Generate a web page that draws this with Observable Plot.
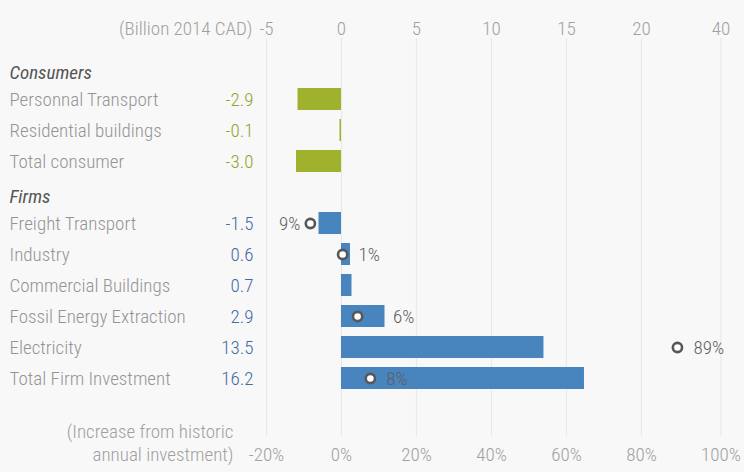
<!DOCTYPE html>
<html>
<head>
<meta charset="utf-8">
<script src="https://cdn.jsdelivr.net/npm/d3@7"></script>
<script src="https://cdn.jsdelivr.net/npm/@observablehq/plot@0.6"></script>
<style>
  html, body { margin: 0; padding: 0; background: #f8f8f8; }
  #chart svg { display: block; }
</style>
</head>
<body>
<div id="chart"></div>
<script>
// ---- data ----
const categories = ["Personnal Transport", "Residential buildings", "Total consumer",
  "Freight Transport", "Industry", "Commercial Buildings", "Fossil Energy Extraction",
  "Electricity", "Total Firm Investment"];
const groups = ["Consumers", "Consumers", "Consumers", "Firms", "Firms", "Firms", "Firms", "Firms", "Firms"];
const investment = [-2.9, -0.1, -3.0, -1.5, 0.6, 0.7, 2.9, 13.5, 16.2];
const investmentLabels = ["-2.9", "-0.1", "-3.0", "-1.5", "0.6", "0.7", "2.9", "13.5", "16.2"];

const pctCategories = ["Freight Transport", "Industry", "Fossil Energy Extraction", "Electricity", "Total Firm Investment"];
const pctIncrease = [-8.3, 0.3, 4.3, 89.6, 7.7];
const pctLabels = ["9%", "1%", "6%", "89%", "8%"];

const topTickValues = [-5, 0, 5, 10, 15, 20, 25.3];
const topTickLabels = ["-5", "0", "5", "10", "15", "20", "40"];
const bottomTickValues = [-20, 0, 20, 40, 60, 80, 101.2];
const bottomTickLabels = ["-20%", "0%", "20%", "40%", "60%", "80%", "100%"];

// ---- derived tables ----
const rows = categories.map((c, i) => ({category: c, group: groups[i], value: investment[i], label: investmentLabels[i]}));
const yDomain = [...categories.slice(0, 3), "", ...categories.slice(3)];
const pctToX = p => p / 4; // 20% on the lower axis lines up with 5 on the upper axis
const pctRows = pctCategories.map((c, i) => {
  const bar = investment[categories.indexOf(c)];
  const cx = pctToX(pctIncrease[i]);
  return {category: c, pct: pctIncrease[i], cx, label: pctLabels[i], bar,
    afterBar: cx >= 0 && bar > cx && bar - cx < 2.5};
});
const headers = ["Consumers", "Firms"].map(g => ({group: g, category: rows.find(r => r.group === g).category}));
const groupColor = {Consumers: "#a0b12d", Firms: "#4884be"};
const valueColor = {Consumers: "#90a428", Firms: "#3f6aa6"};

const FONT = "'Roboto Condensed', Roboto, sans-serif";

const plot = Plot.plot({
  width: 744,
  height: 472,
  marginTop: 38,
  marginBottom: 36,
  marginLeft: 0,
  marginRight: 24,
  style: {background: "#f8f8f8", fontFamily: FONT, fontSize: "19px", fontWeight: 300},
  x: {domain: [-5, 25.27], range: [266, 720], axis: null},
  y: {domain: yDomain, range: [81.5, 395.5], paddingInner: 0.28, paddingOuter: 0.14, axis: null},
  marks: [
    Plot.ruleX(topTickValues, {stroke: "#e9e9e9", strokeWidth: 1.2}),
    Plot.barX(rows, {x: "value", y: "category", fill: d => groupColor[d.group]}),
    // top axis labels
    Plot.text(topTickValues, {x: d => d, text: (d, i) => topTickLabels[i], frameAnchor: "top", dy: -17, fill: "#a0a0a0"}),
    Plot.text(["(Billion 2014 CAD)"], {frameAnchor: "top-left", dx: 252, dy: -17, textAnchor: "end", fill: "#a0a0a0"}),
    // bottom axis labels
    Plot.text(bottomTickValues, {x: d => pctToX(d), text: (d, i) => bottomTickLabels[i], frameAnchor: "bottom", dy: 24, fill: "#a0a0a0"}),
    Plot.text(["(Increase from historic"], {frameAnchor: "bottom-left", dx: 233, dy: 1, textAnchor: "end", fill: "#a0a0a0"}),
    Plot.text(["annual investment)"], {frameAnchor: "bottom-left", dx: 233, dy: 24, textAnchor: "end", fill: "#a0a0a0"}),
    // row labels
    Plot.text(rows, {y: "category", text: "category", frameAnchor: "left", dx: 9, textAnchor: "start", fill: "#949494"}),
    Plot.text(rows, {y: "category", text: "label", frameAnchor: "left", dx: 253, textAnchor: "end", fill: d => valueColor[d.group]}),
    Plot.text(headers, {y: "category", text: "group", frameAnchor: "left", dx: 9, dy: -27, textAnchor: "start", fill: "#555", fontStyle: "italic", fontWeight: 400}),
    // percentage circles
    Plot.dot(pctRows, {x: "cx", y: "category", r: 4.6, fill: "white", stroke: "#575757", strokeWidth: 2.6}),
    Plot.text(pctRows.filter(d => d.cx < 0), {x: "cx", y: "category", text: "label", dx: -10, textAnchor: "end", fill: "#5e5e5e"}),
    Plot.text(pctRows.filter(d => d.cx >= 0 && !d.afterBar), {x: "cx", y: "category", text: "label", dx: 16, textAnchor: "start", fill: "#5e5e5e"}),
    Plot.text(pctRows.filter(d => d.afterBar), {x: "bar", y: "category", text: "label", dx: 8, textAnchor: "start", fill: "#5e5e5e"})
  ]
});
document.getElementById("chart").appendChild(plot);
</script>
</body>
</html>
